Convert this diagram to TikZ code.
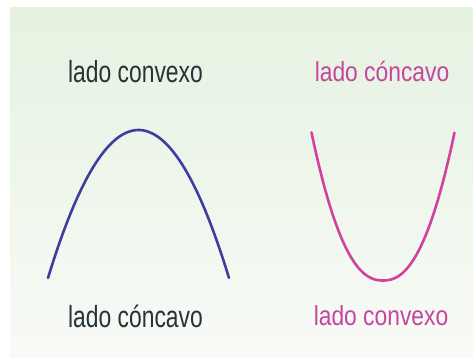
\documentclass[tikz,border=0pt]{standalone}
\usepackage{fontspec}
\setmainfont{Liberation Sans}
\newfontfamily\darkfont[FakeStretch=0.75]{Liberation Sans}
\newfontfamily\pinkfont[FakeStretch=0.83]{Liberation Sans}
\definecolor{bgtop}{RGB}{229,242,225}
\definecolor{bgbot}{RGB}{248,250,246}
\definecolor{archblue}{RGB}{62,62,158}
\definecolor{upink}{RGB}{210,66,156}
\definecolor{darktext}{RGB}{38,52,58}
\definecolor{pinktext}{RGB}{196,70,160}
\tikzset{
  lbl/.style={anchor=base, inner sep=0pt},
  lblpink/.style={lbl, text=pinktext, font=\pinkfont\fontsize{27.5}{27.5}\selectfont},
  lbldark/.style={lbl, text=darktext, font=\darkfont\fontsize{30.5}{30.5}\selectfont},
  curve/.style={line width=2.6pt, line cap=round}
}
\begin{document}
\begin{tikzpicture}[x=1pt,y=-1pt]
\useasboundingbox (0,0) rectangle (473,358);
\fill[white] (0,0) rectangle (473,358);
\shade[top color=bgtop, bottom color=bgbot] (10,8) rectangle (473,358);
\node[lbldark] (tl) at (135.5,82.5) {lado convexo};
\node[lblpink] (tr) at (382,81.5) {lado cóncavo};
\node[lbldark] (bl) at (135.5,327) {lado cóncavo};
\node[lblpink] (br) at (381,325) {lado convexo};
\draw[curve, archblue] plot[domain=-1:1, samples=60, smooth] ({138.5+90.5*\x}, {130+148*\x*\x});
\draw[curve, upink] plot[domain=-1:1, samples=60, smooth] ({383+71.5*\x}, {280.5-148*abs(\x)^2.3});
\end{tikzpicture}
\end{document}
